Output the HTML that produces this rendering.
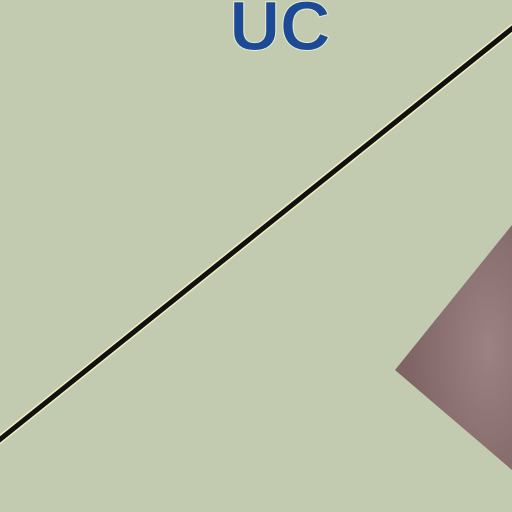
<!DOCTYPE html>
<html><head><meta charset="utf-8"><style>
html,body{margin:0;padding:0;width:512px;height:512px;overflow:hidden;background:#c2cbb0}
</style></head><body>
<svg width="512" height="512" viewBox="0 0 512 512">
<defs>
<radialGradient id="g" cx="0.8" cy="0.5" r="0.7">
<stop offset="0" stop-color="#9c8282"/>
<stop offset="1" stop-color="#7e6464"/>
</radialGradient>
</defs>
<rect width="512" height="512" fill="#c2cbb0"/>
<text x="280" y="50" text-anchor="middle" font-family="Liberation Sans, sans-serif" font-weight="bold" font-size="70" fill="#1d4a96" stroke="#e8ecc8" stroke-width="1">UC</text>
<line x1="-2" y1="441" x2="514" y2="27" stroke="#f2f0c0" stroke-width="8"/>
<line x1="-2" y1="441" x2="514" y2="27" stroke="#111" stroke-width="5"/>
<polygon points="395,370 512,225 512,470" fill="url(#g)"/>
</svg>
</body></html>
